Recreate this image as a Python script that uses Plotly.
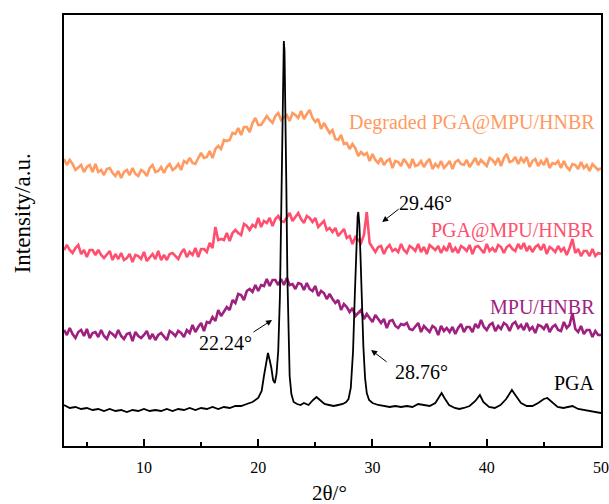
import numpy as np
import plotly.graph_objects as go

# ---- data (heights in arbitrary intensity units, curves offset vertically) ----
two_theta = np.round(np.arange(3.0, 50.001, 0.25), 2)

degraded = [287,281,286,282,276,279,281,274,279,281,274,282,274,276,271,277,278,273,270,275,
            268,274,276,271,278,272,270,276,274,270,278,281,274,275,279,273,279,282,276,278,
            282,276,285,283,288,283,282,288,293,288,289,295,288,297,300,297,306,305,306,313,
            312,318,311,319,319,314,323,328,321,321,326,330,326,323,330,333,326,329,331,325,
            333,331,328,335,327,332,336,328,324,327,317,323,318,313,316,307,306,311,302,303,
            297,302,298,290,294,291,293,285,292,286,283,288,281,285,287,278,285,284,280,287,
            283,278,287,280,281,285,279,284,287,277,282,279,285,278,281,285,277,284,286,282,
            281,286,279,284,288,281,286,283,280,288,286,282,288,280,288,292,284,285,289,282,
            288,284,289,279,285,287,280,285,281,288,278,283,282,285,278,285,279,276,282,281,
            277,284,278,281,275,282,279,276,278]

pga_mpu = [196,201,196,193,198,201,192,196,189,196,196,191,196,191,188,192,195,186,192,187,
           193,186,188,192,184,191,190,187,194,185,189,192,187,195,186,191,186,192,193,190,
           187,193,197,189,194,191,198,189,197,197,194,203,198,219,206,207,206,213,205,213,
           216,213,211,222,220,216,221,219,228,219,225,223,228,220,227,230,225,224,229,233,
           225,229,233,227,223,230,228,224,228,219,222,225,216,218,214,218,210,214,217,208,
           210,202,209,206,203,211,234,203,198,194,199,200,192,198,201,195,197,194,202,196,
           193,200,198,195,202,194,199,192,201,198,196,200,193,199,195,203,194,198,193,200,
           198,195,201,192,199,200,196,193,202,195,198,194,201,199,193,199,201,197,195,202,
           197,203,195,200,194,199,201,196,202,192,199,197,194,200,195,198,191,198,207,193,
           197,190,195,195,190,197,190,193,192]

mpu = [116,111,118,112,108,114,116,110,117,108,113,114,109,116,110,107,114,112,109,116,
       110,107,112,113,105,114,110,108,111,115,107,112,106,111,113,110,106,115,113,110,
       115,113,109,116,113,121,114,119,123,115,124,123,129,125,136,130,135,139,136,146,
       143,152,151,146,155,157,154,161,155,161,160,167,160,166,166,161,167,161,168,161,
       162,157,163,162,156,163,157,155,160,150,155,153,147,152,147,143,146,136,142,139,
       134,138,130,133,136,127,132,128,124,131,127,123,127,118,125,126,120,118,122,121,
       123,117,116,119,123,114,120,117,114,120,118,111,120,115,118,114,119,112,118,122,
       114,119,119,114,122,118,126,119,116,121,123,115,120,117,123,121,115,122,124,118,
       121,116,123,116,119,113,121,120,117,122,114,119,121,116,115,124,118,121,133,117,
       114,120,112,116,116,109,115,111,111]

pga_x = [3.0,3.5,4.0,4.5,5.0,5.5,6.0,6.5,7.0,7.5,8.0,8.5,9.0,9.5,10.0,10.5,11.0,11.5,12.0,12.5,
         13.0,13.5,14.0,14.5,15.0,15.5,16.0,16.5,17.0,17.5,18.0,18.5,19.0,19.5,20.0,20.3,20.5,20.7,
         20.85,21.0,21.15,21.3,21.45,21.6,21.75,21.9,22.0,22.1,22.18,22.24,22.3,22.38,22.46,22.55,
         22.65,22.75,22.9,23.1,23.4,23.7,24.0,24.4,24.8,25.1,25.4,25.8,26.2,26.6,27.0,27.4,27.7,
         27.9,28.1,28.3,28.45,28.6,28.7,28.76,28.85,28.95,29.05,29.2,29.35,29.5,29.7,30.0,30.5,
         31.0,31.5,32.0,32.5,33.0,33.5,34.0,34.5,35.0,35.5,35.8,36.05,36.3,36.7,37.2,37.6,38.0,
         38.5,39.0,39.4,39.7,40.2,40.7,41.2,41.7,42.0,42.2,42.5,43.0,43.5,44.0,44.5,45.0,45.3,
         45.7,46.2,46.7,47.2,47.5,48.0,48.5,49.0,49.5,50.0]
pga_y = [41,38,39,37,38,36,37,35,37,35,36,34,36,35,37,35,36,35,37,35,
         37,36,38,36,38,37,39,37,39,38,40,40,42,44,48,55,70,85,
         93,86,78,66,63,72,95,150,230,330,390,405,395,340,260,170,
         105,70,52,44,42,41,43,41,46,49,46,42,41,40,41,42,44,
         47,58,95,150,210,230,234,222,190,150,100,68,53,46,43,41,
         40,39,40,39,40,39,42,41,40,43,48,53,48,41,38,37,38,
         40,45,51,44,39,38,41,47,52,56,51,43,40,40,43,47,48,
         44,39,38,39,40,37,36,35,34,33]

series_names = ["Degraded PGA@MPU/HNBR", "PGA@MPU/HNBR", "MPU/HNBR", "PGA"]
series_colors = ["#FF9A60", "#FF4F6E", "#9E2180", "#000000"]
label_y = [324, 216, 139, 63]

peak_labels = ["22.24°", "28.76°", "29.46°"]
peak_heads = [(21.21, 126), (29.88, 96), (30.85, 224)]
peak_tails = [(19.46, 113), (31.37, 83), (32.42, 238)]
peak_text_pos = [(17.1, 103), (34.26, 74), (34.6, 243)]

FONT = "Liberation Serif"

fig = go.Figure()
ys = [degraded, pga_mpu, mpu]
for name, col, y in zip(series_names[:3], series_colors[:3], ys):
    fig.add_trace(go.Scatter(x=two_theta, y=y, mode="lines", name=name,
                             line=dict(color=col, width=2.6), showlegend=False))
fig.add_trace(go.Scatter(x=pga_x, y=pga_y, mode="lines", name="PGA",
                         line=dict(color=series_colors[3], width=1.8), showlegend=False))

for name, col, ly in zip(series_names, series_colors, label_y):
    fig.add_annotation(x=49.67, y=ly, xref="x", yref="y", text=name, showarrow=False,
                       xanchor="right", yanchor="middle",
                       font=dict(family=FONT, size=20, color=col))

for lab, head, tail, tp in zip(peak_labels, peak_heads, peak_tails, peak_text_pos):
    fig.add_annotation(x=head[0], y=head[1], ax=tail[0], ay=tail[1], xref="x", yref="y",
                       axref="x", ayref="y", text="", showarrow=True, arrowhead=2,
                       arrowsize=1.2, arrowwidth=1, arrowcolor="black")
    fig.add_annotation(x=tp[0], y=tp[1], xref="x", yref="y", text=lab, showarrow=False,
                       xanchor="center", yanchor="middle",
                       font=dict(family=FONT, size=20, color="black"))

fig.add_annotation(x=0.495, y=-0.108, xref="paper", yref="paper", text="2θ/°",
                   showarrow=False, xanchor="center", yanchor="middle",
                   font=dict(family=FONT, size=21, color="black"))
fig.add_annotation(x=-0.078, y=0.54, xref="paper", yref="paper", text="Intensity/a.u.",
                   showarrow=False, textangle=-90, xanchor="center", yanchor="middle",
                   font=dict(family=FONT, size=23, color="black"))

fig.update_layout(
    width=609, height=504,
    margin=dict(l=64, r=8, t=15, b=58, autoexpand=False),
    paper_bgcolor="white", plot_bgcolor="white",
    xaxis=dict(range=[3, 50], dtick=10, tick0=0, ticks="inside", ticklen=7, tickwidth=1.5,
               tickcolor="black", showline=True, linecolor="black", linewidth=1.8,
               mirror=True, showgrid=False, zeroline=False, automargin=False,
               tickfont=dict(family=FONT, size=16, color="black"), ticklabelstandoff=6,
               minor=dict(ticks="inside", ticklen=4, tickwidth=1.5, tickcolor="black",
                          dtick=5, tick0=0, showgrid=False)),
    yaxis=dict(range=[0, 431], showticklabels=False, ticks="", showline=True,
               linecolor="black", linewidth=1.8, mirror=True, showgrid=False,
               zeroline=False, automargin=False),
)

fig.write_html("out.html")
